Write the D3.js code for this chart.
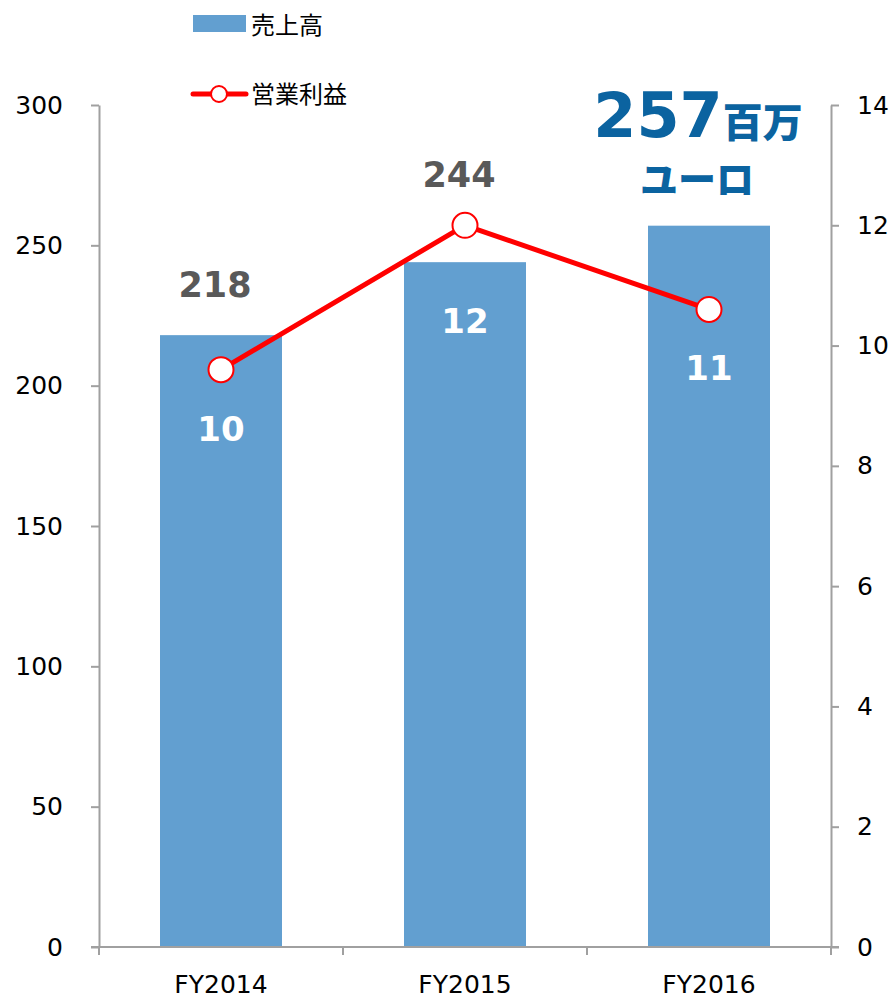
<!DOCTYPE html>
<html>
<head>
<meta charset="utf-8">
<script src="https://cdn.jsdelivr.net/npm/d3@7"></script>
<style>
  html, body { margin: 0; padding: 0; background: #fff; }
  svg { display: block; }
</style>
</head>
<body>
<svg id="chart" width="894" height="998"></svg>
<script>
const categories = ["FY2014", "FY2015", "FY2016"];
const sales = [218, 244, 257];          // 売上高 (百万ユーロ)
const profit = [9.6, 12.0, 10.6];       // 営業利益
const profitLabels = ["10", "12", "11"];
const salesLabels = ["218", "244", "257"];
const leftTicks = [0, 50, 100, 150, 200, 250, 300];
const rightTicks = [0, 2, 4, 6, 8, 10, 12, 14];
const seriesNames = ["売上高", "営業利益"];
const calloutUnit = "百万";
const calloutUnit2 = "ユーロ";

(function () {
const svg = d3.select("#chart");
const pL = 99, pR = 831, pT = 105, pB = 947;
const axisColor = "#a0a0a0";
const barColor = "#629fd0";
const lineColor = "#ff0000";
const latin = "'DejaVu Sans', Verdana, sans-serif";
const cjk = "'Noto Sans CJK JP', 'Noto Sans', sans-serif";

const x = d3.scaleBand().domain(categories).range([pL, pR])
  .paddingInner(0.5).paddingOuter(0.25);
const yL = d3.scaleLinear().domain([0, 300]).range([pB, pT]);
const yR = d3.scaleLinear().domain([0, 14]).range([pB, pT]);
const gap = (x.step() - x.bandwidth()) / 2;

// Bars
svg.append("g").selectAll("rect").data(categories).join("rect")
  .attr("x", d => x(d))
  .attr("y", (d, i) => yL(sales[i]))
  .attr("width", x.bandwidth())
  .attr("height", (d, i) => yL(0) - yL(sales[i]))
  .attr("fill", barColor);

// Left axis
const gL = svg.append("g").attr("transform", `translate(${pL},0)`)
  .call(d3.axisLeft(yL).tickValues(leftTicks).tickSize(8).tickSizeOuter(0).tickPadding(28));
gL.select(".domain").attr("stroke", axisColor).attr("stroke-width", 2);
gL.selectAll(".tick line").attr("stroke", axisColor).attr("stroke-width", 2);
gL.selectAll(".tick text").attr("font-family", latin).attr("font-size", 25).attr("fill", "#000");

// Right axis
const gR = svg.append("g").attr("transform", `translate(${pR},0)`)
  .call(d3.axisRight(yR).tickValues(rightTicks).tickSize(8).tickSizeOuter(0).tickPadding(18));
gR.select(".domain").attr("stroke", axisColor).attr("stroke-width", 2);
gR.selectAll(".tick line").attr("stroke", axisColor).attr("stroke-width", 2);
gR.selectAll(".tick text").attr("font-family", latin).attr("font-size", 25).attr("fill", "#000");

// Bottom axis
const gB = svg.append("g").attr("transform", `translate(0,${pB})`);
gB.append("line").attr("x1", pL - 8).attr("x2", pR + 8).attr("y1", 0).attr("y2", 0)
  .attr("stroke", axisColor).attr("stroke-width", 2);
const bounds = categories.map(d => x(d) - gap).concat([x(categories[categories.length - 1]) + x.bandwidth() + gap]);
gB.selectAll("line.tk").data(bounds).join("line").attr("class", "tk")
  .attr("x1", d => d).attr("x2", d => d).attr("y1", 0).attr("y2", 8)
  .attr("stroke", axisColor).attr("stroke-width", 2);
gB.selectAll("text").data(categories).join("text")
  .attr("x", d => x(d) + x.bandwidth() / 2)
  .attr("y", 46)
  .attr("text-anchor", "middle")
  .attr("font-family", latin).attr("font-size", 25).attr("fill", "#000")
  .text(d => d);

// Line
const cx = d => x(d) + x.bandwidth() / 2;
const line = d3.line().x((d, i) => cx(categories[i])).y(d => yR(d));
svg.append("path").datum(profit).attr("d", line)
  .attr("fill", "none").attr("stroke", lineColor).attr("stroke-width", 5)
  .attr("stroke-linejoin", "round");
svg.append("g").selectAll("circle").data(profit).join("circle")
  .attr("cx", (d, i) => cx(categories[i]))
  .attr("cy", d => yR(d))
  .attr("r", 12.5)
  .attr("fill", "#fff").attr("stroke", lineColor).attr("stroke-width", 2);

// Sales labels (except last, which is the callout)
svg.append("g").selectAll("text").data(categories.slice(0, 2)).join("text")
  .attr("x", (d, i) => cx(d) - 6)
  .attr("y", (d, i) => Math.min(yL(sales[i]), yR(profit[i])) - 38)
  .attr("text-anchor", "middle")
  .attr("font-family", latin).attr("font-weight", "bold").attr("font-size", 35)
  .attr("fill", "#595959")
  .text((d, i) => salesLabels[i]);

// Profit labels (white, inside bars)
svg.append("g").selectAll("text").data(categories).join("text")
  .attr("x", d => cx(d))
  .attr("y", (d, i) => Math.max(yL(sales[i]), yR(profit[i])) + 71)
  .attr("text-anchor", "middle")
  .attr("font-family", latin).attr("font-weight", "bold").attr("font-size", 34)
  .attr("fill", "#fff")
  .text((d, i) => profitLabels[i]);

// Callout for last bar
const lastI = categories.length - 1;
const lastX = cx(categories[lastI]);
const lastTop = yL(sales[lastI]);
const callout = svg.append("text")
  .attr("x", lastX - 11).attr("y", lastTop - 89)
  .attr("text-anchor", "middle").attr("fill", "#0b63a0").attr("font-weight", "bold");
callout.append("tspan").attr("font-family", latin).attr("font-size", 62).text(salesLabels[lastI]);
callout.append("tspan").attr("font-family", cjk).attr("font-size", 40).attr("font-weight", 900).text(calloutUnit);
svg.append("text")
  .attr("x", lastX - 12).attr("y", lastTop - 33)
  .attr("text-anchor", "middle").attr("fill", "#0b63a0")
  .attr("font-family", cjk).attr("font-size", 38).attr("font-weight", 900)
  .text(calloutUnit2);

// Legend
const lg = svg.append("g");
lg.append("rect").attr("x", 193).attr("y", 15).attr("width", 53).attr("height", 17).attr("fill", barColor);
lg.append("text").attr("x", 251).attr("y", 34).attr("font-family", cjk).attr("font-size", 24)
  .attr("fill", "#000").text(seriesNames[0]);
lg.append("line").attr("x1", 193).attr("x2", 246).attr("y1", 94).attr("y2", 94)
  .attr("stroke", lineColor).attr("stroke-width", 5).attr("stroke-linecap", "round");
lg.append("circle").attr("cx", 219).attr("cy", 94).attr("r", 8)
  .attr("fill", "#fff").attr("stroke", lineColor).attr("stroke-width", 2);
lg.append("text").attr("x", 251).attr("y", 103).attr("font-family", cjk).attr("font-size", 24)
  .attr("fill", "#000").text(seriesNames[1]);
})();
</script>
</body>
</html>
